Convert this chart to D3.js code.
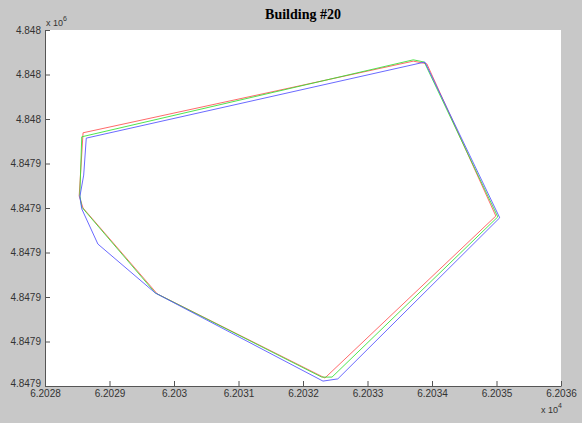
<!DOCTYPE html>
<html><head><meta charset="utf-8">
<script src="https://cdn.jsdelivr.net/npm/d3@7"></script>
<style>body{margin:0;background:#c8c8c8;}svg{display:block;}</style>
</head><body><svg id="c" width="582" height="423"></svg>
<script>
const title = "Building #20";
const xTicks = [62028,62029,62030,62031,62032,62033,62034,62035,62036];
const xTickLabels = ["6.2028","6.2029","6.203","6.2031","6.2032","6.2033","6.2034","6.2035","6.2036"];
const yTicks = [4847944,4847945,4847946,4847947,4847948,4847949,4847950,4847951,4847952];
const yTickLabels = ["4.8479","4.8479","4.8479","4.8479","4.8479","4.8479","4.848","4.848","4.848"];

const redX = [62028.59,62033.71,62033.92,62034.99,62032.34,62029.74,62028.59,62028.53,62028.59];
const redY = [4847949.69,4847951.30,4847951.24,4847947.82,4847944.18,4847946.07,4847948.00,4847948.27,4847949.69];
const greenX = [62028.57,62033.71,62033.88,62035.02,62032.45,62032.29,62029.71,62028.57,62028.54,62028.57];
const greenY = [4847949.60,4847951.33,4847951.28,4847947.80,4847944.20,4847944.20,4847946.09,4847948.02,4847948.29,4847949.60];
const blueX = [62028.64,62033.89,62035.05,62032.54,62032.31,62029.71,62028.82,62028.57,62028.54,62028.60,62028.64];
const blueY = [4847949.57,4847951.28,4847947.78,4847944.16,4847944.11,4847946.09,4847947.19,4847947.98,4847948.25,4847948.74,4847949.57];

const series = [
  {x: redX, y: redY, color: "#ff5050"},
  {x: greenX, y: greenY, color: "#30e030"},
  {x: blueX, y: blueY, color: "#5050ff"}
];

const svg = d3.select("#c");
const L = 45, R = 561, T = 30, B = 386;
const x = d3.scaleLinear().domain([62028, 62036]).range([L, R]);
const y = d3.scaleLinear().domain([4847944, 4847952]).range([B, T]);

svg.append("rect").attr("x", L).attr("y", T).attr("width", R - L).attr("height", B - T).attr("fill", "#fff");

const line = d3.line().x(d => x(d[0])).y(d => y(d[1]));
series.forEach(s => {
  const pts = s.x.map((v, i) => [v, s.y[i]]);
  svg.append("path").attr("d", line(pts)).attr("fill", "none")
    .attr("stroke", s.color).attr("stroke-width", 1).attr("stroke-opacity", 0.85);
});

const axisColor = "#555";
const xAxis = d3.axisBottom(x).tickValues(xTicks).tickSizeInner(-5).tickSizeOuter(0).tickPadding(6)
  .tickFormat((d, i) => xTickLabels[i]);
const gx = svg.append("g").attr("transform", `translate(0,${B})`).call(xAxis);
const yAxis = d3.axisLeft(y).tickValues(yTicks).tickSizeInner(-5).tickSizeOuter(0).tickPadding(4)
  .tickFormat((d, i) => yTickLabels[i]);
const gy = svg.append("g").attr("transform", `translate(${L},0)`).call(yAxis);
[gx, gy].forEach(g => {
  g.select(".domain").attr("stroke", axisColor);
  g.selectAll(".tick line").attr("stroke", axisColor);
  g.selectAll(".tick text").attr("fill", "#333").attr("font-family", "Liberation Sans, Arial, sans-serif").attr("font-size", 10);
});
gx.selectAll(".tick text").attr("dy", "0.5em");
gy.selectAll(".tick text").filter((d, i) => i === 0).attr("dy", "0.05em");

svg.append("text").attr("x", (L + R) / 2).attr("y", 19).attr("text-anchor", "middle")
  .attr("font-family", "Liberation Serif, Times New Roman, serif").attr("font-weight", "bold")
  .attr("font-size", 14).attr("fill", "#000").text(title);

function mult(xp, yp, exp) {
  const t = svg.append("text").attr("x", xp).attr("y", yp)
    .attr("font-family", "Liberation Sans, Arial, sans-serif").attr("font-size", 9).attr("fill", "#333");
  t.append("tspan").text("x 10");
  t.append("tspan").attr("dy", -5).attr("font-size", 7).text(exp);
}
mult(46, 26, "6");
mult(541, 413, "4");
</script></body></html>
